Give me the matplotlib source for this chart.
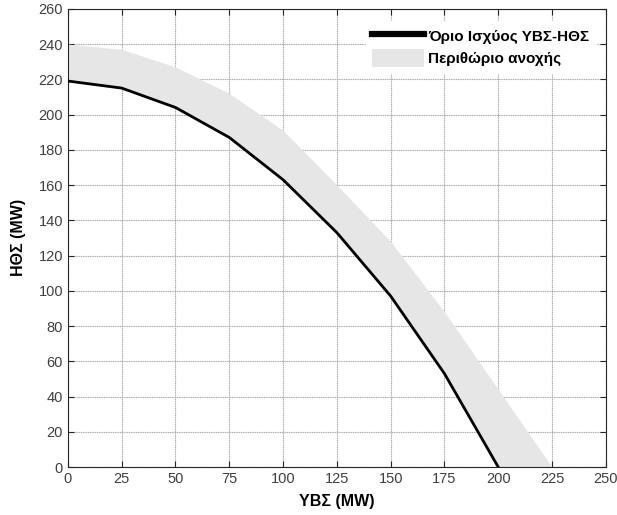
import numpy as np
import matplotlib.pyplot as plt

plt.rcParams['font.family'] = ['Liberation Sans', 'DejaVu Sans']

# Data
ybs = [0, 25, 50, 75, 100, 125, 150, 175, 200]
limit = [219, 215, 204, 187, 163, 133, 97, 53, 0]

band_x = [0, 25, 50, 75, 100, 125, 150, 175, 200, 225]
band_low = [219, 215, 204, 187, 163, 133, 97, 53, 0, 0]
band_high = [240, 237, 227, 212, 191, 160, 128, 88, 44, 0]

fig = plt.figure(figsize=(6.17, 5.15), dpi=100)
ax = fig.add_axes([0.110, 0.093, 0.872, 0.890])

band = ax.fill_between(band_x, band_low, band_high, color='#e6e6e6', linewidth=0,
                       label='Περιθώριο ανοχής', zorder=2)
line, = ax.plot(ybs, limit, color='black', linewidth=2, label='Όριο Ισχύος ΥΒΣ-ΗΘΣ', zorder=3)

ax.set_xlim(0, 250)
ax.set_ylim(0, 260)
ax.set_xticks(np.arange(0, 251, 25))
ax.set_yticks(np.arange(0, 261, 20))
ax.grid(True, color='#a8a8a8', linestyle=(0, (1, 0.6)), linewidth=0.8, zorder=1)
ax.set_axisbelow(True)

ax.tick_params(direction='in', top=True, right=True, length=4, width=0.8,
               labelsize=10.5, colors='#262626', labelcolor='#404040')
for s in ax.spines.values():
    s.set_color('#262626')
    s.set_linewidth(0.8)

ax.set_xlabel('ΥΒΣ (MW)', fontsize=11.5, fontweight='bold', labelpad=6)
ax.set_ylabel('ΗΘΣ (MW)', fontsize=11.5, fontweight='bold', labelpad=9)

leg = ax.legend([line, band], [line.get_label(), band.get_label()],
                loc='upper right', bbox_to_anchor=(0.995, 0.99), fontsize=11,
                frameon=True, fancybox=False, framealpha=1, edgecolor='white',
                handlelength=3.4, handleheight=1.4, handletextpad=0.3,
                borderpad=0.4, labelspacing=0.3)
for t in leg.get_texts():
    t.set_fontweight('bold')
leg.get_lines()[0].set_linewidth(4.5)

fig.savefig('out.png', dpi=100)
